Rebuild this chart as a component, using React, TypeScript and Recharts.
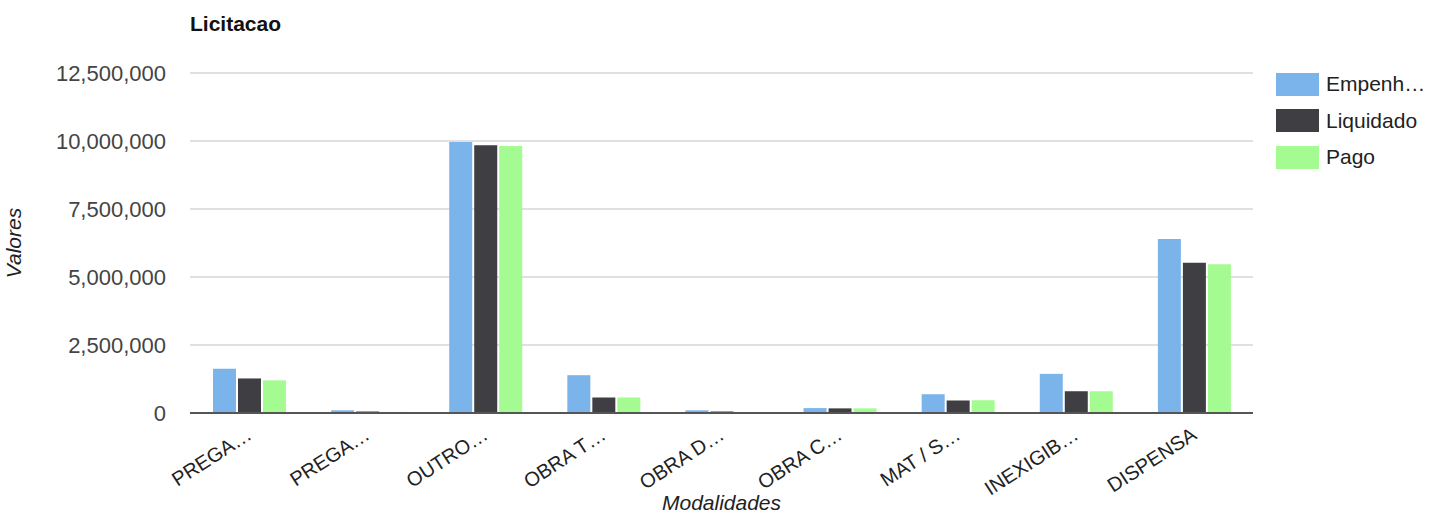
import React from 'react';
import { BarChart, Bar, XAxis, YAxis, CartesianGrid } from 'recharts';

const modalidades = ['PREGA…', 'PREGA…', 'OUTRO…', 'OBRA T…', 'OBRA D…', 'OBRA C…', 'MAT / S…', 'INEXIGIB…', 'DISPENSA'];
const empenhado = [1630000, 100000, 9960000, 1390000, 100000, 180000, 690000, 1440000, 6400000];
const liquidado = [1270000, 55000, 9840000, 570000, 55000, 170000, 460000, 800000, 5520000];
const pago = [1200000, 40000, 9820000, 570000, 35000, 170000, 470000, 800000, 5470000];
const yTicks = [0, 2500000, 5000000, 7500000, 10000000, 12500000];

const series = [
  { key: 'empenhado', name: 'Empenh…', color: '#7ab4ea' },
  { key: 'liquidado', name: 'Liquidado', color: '#3e3e43' },
  { key: 'pago', name: 'Pago', color: '#a4fb92' },
];

const chartData = modalidades.map((m, i) => ({
  modalidade: m,
  empenhado: empenhado[i],
  liquidado: liquidado[i],
  pago: pago[i],
}));

const font = 'Arial, "Liberation Sans", sans-serif';

const SlantTick = (props: any) => {
  const { x, y, payload } = props;
  return (
    <text
      x={x + 4}
      y={y + 17}
      transform={`rotate(-33 ${x + 4} ${y + 17})`}
      textAnchor="end"
      fontSize={20}
      fontFamily={font}
      fill="#222"
    >
      {payload.value}
    </text>
  );
};

export default function App() {
  return (
    <div style={{ position: 'absolute', left: 0, top: 0, width: 1430, height: 515, background: '#fff' }}>
      <div style={{ position: 'absolute', left: 190, top: 12, fontFamily: font, fontWeight: 'bold', fontSize: 21, color: '#111' }}>
        Licitacao
      </div>
      <div style={{ position: 'absolute', left: 1276, top: 66, fontFamily: font, fontSize: 21, color: '#222' }}>
        {series.map(s => (
          <div key={s.key} style={{ display: 'flex', alignItems: 'center', height: 36.5 }}>
            <span style={{ width: 43, height: 23, background: s.color, marginRight: 7, display: 'inline-block' }} />
            <span>{s.name}</span>
          </div>
        ))}
      </div>
      <BarChart
        width={1430}
        height={515}
        data={chartData}
        margin={{ top: 73, right: 177, left: 0, bottom: 0 }}
        barSize={23}
        barGap={2}
      >
        <CartesianGrid stroke="#d6d6d6" strokeWidth={1.5} vertical={false} />
        <XAxis
          dataKey="modalidade"
          tick={<SlantTick />}
          tickLine={false}
          axisLine={{ stroke: '#555', strokeWidth: 2 }}
          interval={0}
          height={102}
          label={{ value: 'Modalidades', position: 'insideBottom', offset: 5, fontSize: 21, fontStyle: 'italic', fontFamily: font, fill: '#222' }}
        />
        <YAxis
          width={190}
          domain={[0, 12500000]}
          ticks={yTicks}
          tickFormatter={(v: number) => v.toLocaleString('en-US')}
          tick={{ fontSize: 22, fontFamily: font, fill: '#444' }}
          tickLine={false}
          axisLine={false}
          tickSize={0}
          tickMargin={24}
          label={{ value: 'Valores', angle: -90, position: 'insideLeft', offset: 14, textAnchor: 'middle', fontSize: 21, fontStyle: 'italic', fontFamily: font, fill: '#222' }}
        />
        {series.map(s => (
          <Bar key={s.key} dataKey={s.key} name={s.name} fill={s.color} isAnimationActive={false} />
        ))}
      </BarChart>
    </div>
  );
}
